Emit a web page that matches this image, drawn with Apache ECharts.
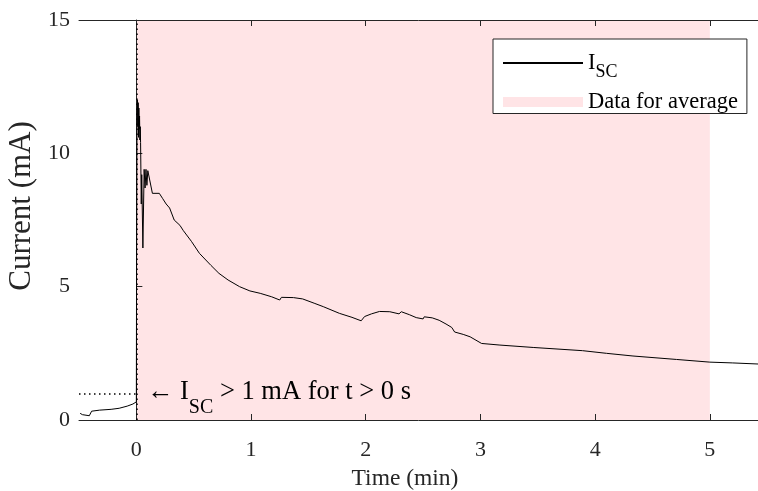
<!DOCTYPE html>
<html>
<head>
<meta charset="utf-8">
<script src="https://cdn.jsdelivr.net/npm/echarts@6/dist/echarts.min.js"></script>
<style>
html,body{margin:0;padding:0;background:#fff;}
#chart{width:758px;height:491px;}
</style>
</head>
<body>
<div id="chart"></div>
<script>
// Time in minutes
var timeMin = [-0.49,-0.47,-0.41,-0.39,-0.32,-0.22,-0.15,-0.08,-0.03,0.000,
  0.002,0.006,0.010,0.013,0.016,0.019,0.022,0.025,0.028,0.031,
  0.034,0.037,0.043,0.047,
  0.057,0.068,0.076,0.084,0.092,0.100,0.112,0.14,0.20,0.23,
  0.26,0.29,0.33,0.38,0.41,0.48,0.55,0.65,0.72,0.80,
  0.90,0.99,1.08,1.18,1.25,1.265,1.37,1.45,1.55,1.63,
  1.77,1.88,1.96,1.99,2.05,2.12,2.21,2.29,2.31,2.38,
  2.44,2.50,2.51,2.58,2.64,2.70,2.75,2.775,2.85,2.91,
  3.01,3.17,3.46,3.89,4.10,4.33,4.71,5.00,5.20,5.42];
// Short-circuit current in mA
var currentMA = [0.25,0.20,0.16,0.33,0.37,0.40,0.44,0.52,0.60,0.68,
  6.1,11.6,12.0,11.0,11.9,10.6,11.7,10.9,11.4,10.5,
  11.0,10.4,8.1,9.2,
  6.45,9.4,8.7,9.4,8.8,9.35,9.3,8.5,8.5,8.3,
  8.1,7.95,7.5,7.3,7.1,6.7,6.25,5.8,5.5,5.25,
  5.0,4.84,4.75,4.62,4.5,4.6,4.59,4.54,4.38,4.25,
  4.0,3.85,3.72,3.88,3.98,4.07,4.06,3.98,4.06,3.95,
  3.84,3.79,3.87,3.83,3.74,3.6,3.47,3.3,3.21,3.12,
  2.87,2.81,2.72,2.6,2.5,2.4,2.27,2.17,2.14,2.1];
var xTicks = [0,1,2,3,4,5];
var yTicks = [0,5,10,15];
var averageWindow = [0,5];
var thresholdMA = 1;

var FONT = '"Liberation Serif","Times New Roman",serif';
var AX = '#262626';
var PINK = '#ffe4e6';

var lineData = timeMin.map(function(t,i){return [t,currentMA[i]];});

var chart = echarts.init(document.getElementById('chart'), null, {renderer:'canvas'});
var xCommon = {
  type:'value', min:-0.5, max:5.42,
  axisLine:{show:true,onZero:false,lineStyle:{color:AX,width:1}},
  axisTick:{show:true,inside:true,length:6,customValues:xTicks,lineStyle:{color:AX}},
  splitLine:{show:false}
};
var option = {
  animation:false,
  backgroundColor:'#fff',
  grid:{left:79,top:20,right:0,bottom:71,containLabel:false,outerBoundsMode:'none'},
  xAxis:[
    Object.assign({}, xCommon, {
      position:'bottom',
      name:'Time (min)', nameLocation:'middle', nameGap:47,
      nameTextStyle:{fontFamily:FONT,fontSize:23.5,color:AX,padding:[0,27,0,0]},
      axisLabel:{show:true,customValues:xTicks,margin:19,fontFamily:FONT,fontSize:22,color:AX}
    }),
    Object.assign({}, xCommon, {
      position:'top',
      axisLabel:{show:false}
    })
  ],
  yAxis:{
    type:'value', min:0, max:15, interval:5,
    name:'Current (mA)', nameLocation:'middle', nameGap:40,
    nameTextStyle:{fontFamily:FONT,fontSize:31,color:AX,padding:[0,0,0,28]},
    axisLine:{show:true,lineStyle:{color:AX,width:1}},
    axisTick:{show:true,inside:true,length:6,lineStyle:{color:AX}},
    axisLabel:{fontFamily:FONT,fontSize:22,color:AX,margin:9},
    splitLine:{show:false}
  },
  legend:{
    orient:'vertical', left:493, top:39,
    padding:[12.5,9,0,9],
    itemWidth:80, itemHeight:10, itemGap:9,
    backgroundColor:'#fff', borderColor:AX, borderWidth:1,
    data:[
      {name:'ISC', itemStyle:{opacity:0}},
      {name:'Data for average', icon:'rect'}
    ],
    formatter:function(n){return n==='ISC' ? '{m|I}{s|SC}' : '{m|'+n+'}';},
    textStyle:{fontFamily:FONT,color:'#000',
      rich:{
        m:{fontFamily:FONT,fontSize:22.5,color:'#000',lineHeight:24},
        s:{fontFamily:FONT,fontSize:18,color:'#000',verticalAlign:'bottom',lineHeight:37}
      }
    }
  },
  series:[
    {
      name:'Data for average', type:'bar', data:[],
      itemStyle:{color:PINK}
    },
    {
      name:'ISC', type:'line', data:lineData, showSymbol:false, symbol:'none',
      lineStyle:{color:'#000',width:1}, itemStyle:{color:'#000'},
      z:5,
      markArea:{
        silent:true, z:-1,
        itemStyle:{color:PINK},
        data:[[{xAxis:averageWindow[0]},{xAxis:averageWindow[1]}]]
      },
      markLine:{
        silent:true, symbol:'none',
        lineStyle:{color:'#000',type:[1.5,3.5],width:1.5},
        label:{show:false},
        data:[
          {xAxis:0},
          [{coord:[-0.5,thresholdMA]},{coord:[0,thresholdMA]}]
        ]
      },
      markPoint:{
        symbol:'circle', symbolSize:1, itemStyle:{color:'rgba(0,0,0,0)'},
        label:{show:true,position:'right',distance:0,offset:[-2,-1],
          formatter:'{m|\u2190 I}{s|SC}{m| > 1 mA for t > 0 s}',
          rich:{
            m:{fontFamily:FONT,fontSize:26.5,color:'#000',lineHeight:26},
            s:{fontFamily:FONT,fontSize:20,color:'#000',verticalAlign:'bottom',lineHeight:50}
          }
        },
        data:[{coord:[0.105,thresholdMA]}]
      }
    }
  ]
};
chart.setOption(option);
</script>
</body>
</html>
